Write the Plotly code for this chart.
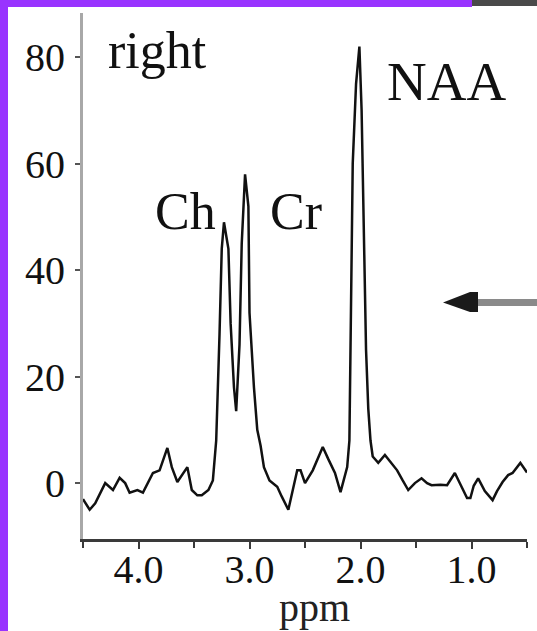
import plotly.graph_objects as go

# ---- data ----
ppm = [4.50, 4.44, 4.39, 4.30, 4.23, 4.17, 4.12, 4.08, 4.01, 3.96,
       3.87, 3.81, 3.74, 3.70, 3.65, 3.56, 3.52, 3.47, 3.43, 3.37,
       3.33, 3.30, 3.27, 3.25, 3.23, 3.19, 3.17, 3.14, 3.12, 3.09,
       3.07, 3.04, 3.01, 3.00, 2.96, 2.93, 2.90, 2.87, 2.82, 2.75,
       2.71, 2.65, 2.61, 2.57, 2.54, 2.50, 2.43, 2.34, 2.29, 2.23,
       2.18, 2.16, 2.12, 2.10, 2.09, 2.07, 2.04, 2.01, 1.99, 1.97,
       1.95, 1.93, 1.91, 1.89, 1.84, 1.78, 1.73, 1.67, 1.62, 1.57,
       1.51, 1.45, 1.40, 1.36, 1.28, 1.22, 1.15, 1.09, 1.04, 1.01,
       0.98, 0.94, 0.88, 0.81, 0.77, 0.72, 0.67, 0.63, 0.56, 0.50]
intensity = [-3.0, -5.0, -3.8, 0.0, -1.3, 1.0, 0.0, -1.8, -1.3, -1.8,
             1.9, 2.4, 6.6, 3.0, 0.2, 3.0, -1.3, -2.3, -2.3, -1.3,
             0.5, 8.0, 28.0, 44.0, 49.0, 44.0, 30.0, 18.0, 13.5, 26.0,
             45.0, 58.0, 52.0, 32.0, 18.0, 10.0, 7.0, 3.0, 0.5, -0.7,
             -2.5, -5.0, -1.3, 2.4, 2.4, 0.0, 2.4, 6.8, 4.5, 1.9,
             -1.7, 0.0, 3.0, 8.0, 30.0, 60.0, 75.0, 82.0, 70.0, 45.0,
             25.0, 14.0, 8.0, 5.0, 3.8, 5.3, 4.0, 2.4, 0.5, -1.3,
             0.0, 0.9, 0.0, -0.4, -0.3, -0.4, 1.9, -0.5, -2.8, -2.8,
             -0.5, 0.9, -1.5, -3.2, -1.5, 0.2, 1.5, 1.9, 3.8, 2.0]
y_ticks = [0, 20, 40, 60, 80]
x_ticks = [4.0, 3.0, 2.0, 1.0]
x_tick_labels = ["4.0", "3.0", "2.0", "1.0"]
peak_labels = ["right", "Ch", "Cr", "NAA"]

# ---- layout geometry (pixels) ----
W, H = 537, 631
L, R, T, B = 83, 10, 13, 92
PW, PH = W - L - R, H - T - B


def px(X):
    return (X - L) / PW


def py(Y):
    return (H - B - Y) / PH


FONT = "Liberation Serif"

fig = go.Figure()
fig.add_trace(go.Scatter(x=ppm, y=intensity, mode="lines",
                         line=dict(color="#111111", width=2.5),
                         hoverinfo="skip", showlegend=False))

fig.update_xaxes(range=[4.5, 0.5], showgrid=False, zeroline=False,
                 showline=True, linecolor="#3a3a3a", linewidth=3,
                 tickvals=x_ticks, ticktext=x_tick_labels,
                 ticks="outside", ticklen=7, tickwidth=2, tickcolor="#3a3a3a",
                 minor=dict(tickvals=[4.5, 3.5, 2.5, 1.5, 0.5], ticks="outside",
                            ticklen=6, tickwidth=2, tickcolor="#3a3a3a"),
                 tickfont=dict(family=FONT, size=40, color="#111111"),
                 ticklabelstandoff=-14)
fig.update_yaxes(range=[-10.5, 88.3], showgrid=False, zeroline=False,
                 showline=True, linecolor="#a8a8a8", linewidth=3,
                 tickvals=y_ticks, ticks="outside", ticklen=5, tickwidth=2,
                 tickcolor="#555555",
                 tickfont=dict(family=FONT, size=40, color="#111111"),
                 ticklabelstandoff=2)

annots = [
    (peak_labels[0], 106, 51, 52),
    (peak_labels[1], 153, 212, 52),
    (peak_labels[2], 268, 212, 52),
    (peak_labels[3], 385, 81, 55),
]
for text, X, Y, s in annots:
    fig.add_annotation(text=text, xref="paper", yref="paper", x=px(X), y=py(Y),
                       xanchor="left", yanchor="middle", showarrow=False,
                       font=dict(family=FONT, size=s, color="#111111"))

# axis title
fig.add_annotation(text="ppm", xref="paper", yref="paper", x=px(314), y=py(607),
                   xanchor="center", yanchor="middle", showarrow=False,
                   font=dict(family=FONT, size=40, color="#222222"))

shapes = []
# purple frame (left and top)
shapes.append(dict(type="rect", xref="paper", yref="paper", x0=px(0), x1=px(8),
                   y0=py(H), y1=py(0), fillcolor="#9933ff", line=dict(width=0), layer="above"))
shapes.append(dict(type="rect", xref="paper", yref="paper", x0=px(0), x1=px(472),
                   y0=py(7), y1=py(0), fillcolor="#9933ff", line=dict(width=0), layer="above"))
shapes.append(dict(type="rect", xref="paper", yref="paper", x0=px(472), x1=px(W),
                   y0=py(6), y1=py(0), fillcolor="#4a4a4a", line=dict(width=0), layer="above"))
# arrow on right
shapes.append(dict(type="rect", xref="paper", yref="paper", x0=px(474), x1=px(W),
                   y0=py(306), y1=py(299), fillcolor="#8a8a8a", line=dict(width=0), layer="above"))
shapes.append(dict(type="path", xref="paper", yref="paper",
                   path=(f"M {px(443)} {py(302.5)} L {px(470)} {py(292)} "
                         f"L {px(478)} {py(292)} L {px(478)} {py(312)} "
                         f"L {px(470)} {py(312)} Z"),
                   fillcolor="#1a1a1a", line=dict(width=0), layer="above"))
fig.update_layout(shapes=shapes)

fig.update_layout(width=W, height=H, margin=dict(l=L, r=R, t=T, b=B, pad=0),
                  paper_bgcolor="white", plot_bgcolor="white",
                  showlegend=False)

fig.write_html("out.html")
